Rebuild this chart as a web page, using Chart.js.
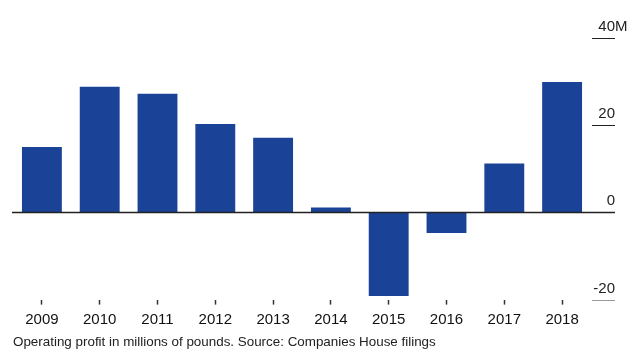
<!DOCTYPE html>
<html>
<head>
<meta charset="utf-8">
<script src="https://cdn.jsdelivr.net/npm/chart.js@4/dist/chart.umd.min.js"></script>
<style>
  html, body { margin: 0; padding: 0; background: #fff; }
  #wrap { width: 638px; height: 362px; }
</style>
</head>
<body>
<div id="wrap"><canvas id="myChart" width="638" height="362"></canvas></div>
<script>
const years = ['2009', '2010', '2011', '2012', '2013', '2014', '2015', '2016', '2017', '2018'];
const profit = [15, 28.8, 27.2, 20.3, 17.1, 1.1, -19.2, -4.7, 11.2, 29.9];
const yTicks = [-20, 0, 20, 40];
const yTickLabels = ['-20', '0', '20', '40M'];
const caption = 'Operating profit in millions of pounds. Source: Companies House filings';

const font = '"Liberation Sans", Arial, sans-serif';

// right-hand tick marks with labels sitting above them, plus the zero line
const rightAxis = {
	id: 'rightAxis',
	afterDatasetsDraw(chart) {
		const ctx = chart.ctx;
		const y = chart.scales.y;
		const area = chart.chartArea;
		const end = area.right + 24;
		ctx.save();
		ctx.font = '15px ' + font;
		ctx.textBaseline = 'bottom';
		yTicks.forEach((v, i) => {
			const py = Math.round(y.getPixelForValue(v)) + 0.5;
			ctx.strokeStyle = v < 0 ? '#999' : '#222';
			ctx.lineWidth = v == 0 ? 1.6 : 1;
			ctx.beginPath();
			if (v == 0) ctx.moveTo(area.left - 1, py);
			else ctx.moveTo(area.right + 1, py);
			ctx.lineTo(end, py);
			ctx.stroke();
			// number right-aligned to the tick end, unit hangs past it
			const label = yTickLabels[i];
			const num = label.replace(/[^0-9\-]/g, '');
			const unit = label.slice(num.length);
			ctx.fillStyle = '#222';
			ctx.textAlign = 'right';
			ctx.fillText(num, end, py - 4);
			if (unit) {
				ctx.textAlign = 'left';
				ctx.fillText(unit, end, py - 4);
			}
		});
		ctx.restore();
	}
};

const ctx = document.getElementById('myChart').getContext('2d');
const myChart = new Chart(ctx, {
	type: 'bar',
	data: {
		labels: years,
		datasets: [{
			data: profit,
			backgroundColor: '#1a4397',
			barPercentage: 0.69,
			categoryPercentage: 1
		}]
	},
	options: {
		responsive: false,
		animation: false,
		layout: { padding: { left: 13, right: 47, top: 38, bottom: 0 } },
		plugins: {
			legend: { display: false },
			tooltip: { enabled: false },
			title: {
				display: true,
				position: 'bottom',
				align: 'start',
				text: caption,
				color: '#222',
				font: { family: font, size: 13.4, weight: 'normal', lineHeight: 1 },
				padding: { top: 0, bottom: 13 }
			}
		},
		scales: {
			x: {
				grid: { offset: false, drawOnChartArea: false, tickLength: 5, tickColor: '#333', tickWidth: 1.5 },
				border: { display: false },
				ticks: { color: '#111', font: { family: font, size: 15, lineHeight: 1 }, padding: 8, maxRotation: 0 }
			},
			y: {
				display: false,
				min: -20,
				max: 40,
				ticks: { stepSize: 20 }
			}
		}
	},
	plugins: [rightAxis]
});
</script>
</body>
</html>
